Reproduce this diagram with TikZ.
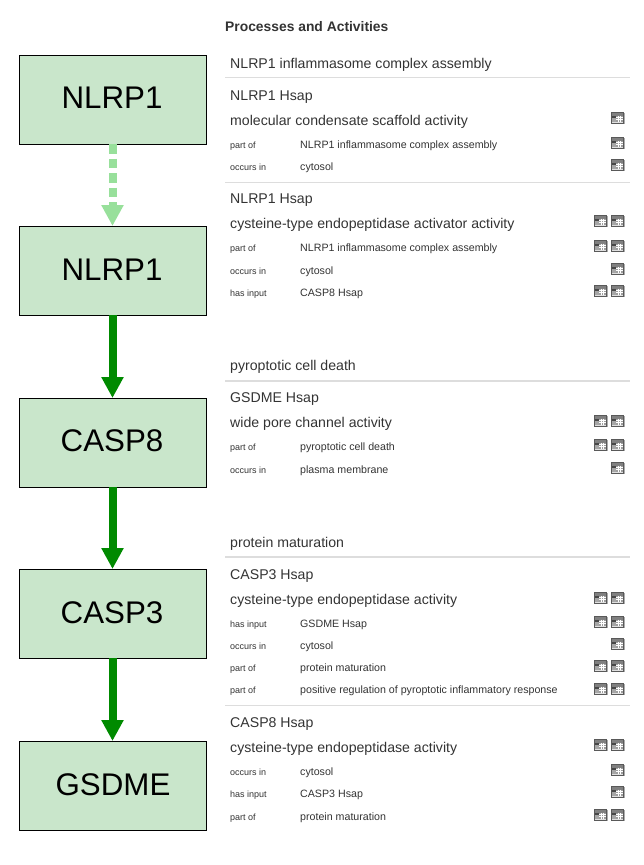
\documentclass[tikz,border=0pt]{standalone}
\usepackage{fontspec}
\setmainfont{Liberation Sans}
\usetikzlibrary{arrows.meta}
\definecolor{boxfill}{HTML}{C9E6CB}
\definecolor{solidgreen}{HTML}{008A00}
\definecolor{palegreen}{HTML}{98E09B}
\definecolor{txt}{HTML}{333333}
\definecolor{rulegray}{HTML}{DDDDDD}
\newcommand{\mkico}[2]{%
  \begin{scope}[shift={(#1,#2)}]
    \fill[black!32] (-5.4,-4.6) rectangle (7,6);
    \fill[black!12] (-6.5,-5.5) rectangle (5.6,5);
    \draw[black!65,line width=1pt] (-6.5,-5.5) rectangle (5.6,5);
    \fill[black!50] (-5.8,-4.8) rectangle (4.9,-2.4);
    \fill[black!72] (-5.8,-2.4) rectangle (-1.6,.4);
    \fill[black!35] (-5.8,.4) rectangle (-1.6,4.3);
    \fill[black!38] (-1.6,-2.4) rectangle (4.9,4.3);
    \foreach \gx in {.4,2.6} \draw[white,line width=.7pt] (\gx,-2.4) -- (\gx,4.3);
    \foreach \gy in {-.4,1.8} \draw[white,line width=.7pt] (-1.6,\gy) -- (4.9,\gy);
  \end{scope}}
\newcommand{\icoA}[1]{\mkico{618}{#1}}
\newcommand{\icoB}[1]{\mkico{601}{#1}\mkico{618}{#1}}
\tikzset{
  x=1pt,y=-1pt,
  genebox/.style={draw=black,line width=.9pt,fill=boxfill,minimum width=187pt,minimum height=89pt,inner sep=0pt,outer sep=0pt,text=black},
  genelabel/.style={anchor=base,inner sep=0pt,text=black,font=\fontsize{31.3}{33}\selectfont},
  solidarrow/.style={draw=solidgreen,line width=8pt,-{Triangle[width=21pt,length=21pt]}},
  palearrow/.style={draw=palegreen,line width=8pt,dash pattern=on 9.5pt off 5pt,-{Triangle[width=21pt,length=21pt]}},
  txtbase/.style={anchor=base west,inner sep=0pt,text=txt},
  ttl/.style={txtbase,font=\fontsize{13.85}{16}\selectfont\bfseries},
  head/.style={txtbase,font=\fontsize{14.13}{16}\selectfont},
  rel/.style={txtbase,font=\fontsize{9}{11}\selectfont},
  val/.style={txtbase,font=\fontsize{10.65}{12}\selectfont},
  heavyrule/.style={draw=rulegray,line width=1.5pt},
  lightrule/.style={draw=rulegray,line width=1pt},
}
\begin{document}
\begin{tikzpicture}
\useasboundingbox (0,0) rectangle (643,865);
\node[genebox] (g1) at (112.5,99.5) {};
\node[genebox] (g2) at (112.5,270.5) {};
\node[genebox] (g3) at (112.5,442.5) {};
\node[genebox] (g4) at (112.5,613.5) {};
\node[genebox] (g5) at (112.5,785.5) {};
\node[genelabel] (l1) at (112,108.5) {NLRP1};
\node[genelabel] (l2) at (112,280) {NLRP1};
\node[genelabel] (l3) at (112,451.5) {CASP8};
\node[genelabel] (l4) at (112,623) {CASP3};
\node[genelabel] (l5) at (113,795) {GSDME};
\draw[palearrow] (g1.south) -- (g2.north);
\draw[solidarrow] (g2.south) -- (g3.north);
\draw[solidarrow] (g3.south) -- (g4.north);
\draw[solidarrow] (g4.south) -- (g5.north);

\node[ttl] (title) at (225,31) {Processes and Activities};

\node[head] (h1) at (230,68) {NLRP1 inflammasome complex assembly};
\draw[heavyrule] (225,77.5) -- (630,77.5);
\node[head] (a1) at (230,100) {NLRP1 Hsap};
\node[head] (a1f) at (230,125) {molecular condensate scaffold activity};
\node[rel] (r1a) at (230,148) {part of};
\node[val] (v1a) at (300,148) {NLRP1 inflammasome complex assembly};
\node[rel] (r1b) at (230,170) {occurs in};
\node[val] (v1b) at (300,170) {cytosol};
\icoA{118}\icoA{143}\icoA{165}
\draw[lightrule] (225,182.5) -- (630,182.5);

\node[head] (a2) at (230,203) {NLRP1 Hsap};
\node[head] (a2f) at (230,228) {cysteine-type endopeptidase activator activity};
\node[rel] (r2a) at (230,251) {part of};
\node[val] (v2a) at (300,251) {NLRP1 inflammasome complex assembly};
\node[rel] (r2b) at (230,274) {occurs in};
\node[val] (v2b) at (300,274) {cytosol};
\node[rel] (r2c) at (230,296) {has input};
\node[val] (v2c) at (300,296) {CASP8 Hsap};
\icoB{221}\icoB{246}\icoA{269}\icoB{291}

\node[head] (h2) at (230,370) {pyroptotic cell death};
\draw[heavyrule] (225,381) -- (630,381);
\node[head] (a3) at (230,402) {GSDME Hsap};
\node[head] (a3f) at (230,427) {wide pore channel activity};
\node[rel] (r3a) at (230,450) {part of};
\node[val] (v3a) at (300,450) {pyroptotic cell death};
\node[rel] (r3b) at (230,473) {occurs in};
\node[val] (v3b) at (300,473) {plasma membrane};
\icoB{421}\icoB{445}\icoA{468}

\node[head] (h3) at (230,547) {protein maturation};
\draw[heavyrule] (225,557) -- (630,557);
\node[head] (a4) at (230,579) {CASP3 Hsap};
\node[head] (a4f) at (230,604) {cysteine-type endopeptidase activity};
\node[rel] (r4a) at (230,627) {has input};
\node[val] (v4a) at (300,627) {GSDME Hsap};
\node[rel] (r4b) at (230,649) {occurs in};
\node[val] (v4b) at (300,649) {cytosol};
\node[rel] (r4c) at (230,671) {part of};
\node[val] (v4c) at (300,671) {protein maturation};
\node[rel] (r4d) at (230,693) {part of};
\node[val] (v4d) at (300,693) {positive regulation of pyroptotic inflammatory response};
\icoB{598}\icoB{622}\icoA{644}\icoB{666}\icoB{689}
\draw[lightrule] (225,705.5) -- (630,705.5);

\node[head] (a5) at (230,727) {CASP8 Hsap};
\node[head] (a5f) at (230,752) {cysteine-type endopeptidase activity};
\node[rel] (r5a) at (230,775) {occurs in};
\node[val] (v5a) at (300,775) {cytosol};
\node[rel] (r5b) at (230,797) {has input};
\node[val] (v5b) at (300,797) {CASP3 Hsap};
\node[rel] (r5c) at (230,820) {part of};
\node[val] (v5c) at (300,820) {protein maturation};
\icoB{745}\icoA{770}\icoA{792}\icoB{815}
\end{tikzpicture}
\end{document}
